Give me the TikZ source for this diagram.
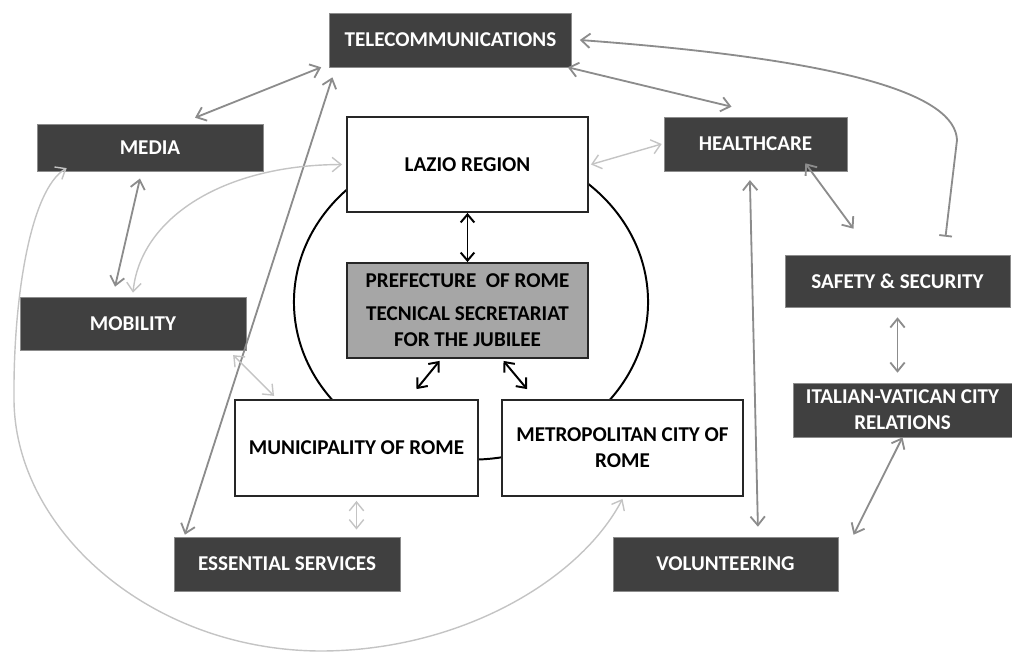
\documentclass[tikz,border=0pt]{standalone}
\usepackage{fontspec}
\setmainfont{Carlito}
\usetikzlibrary{arrows.meta}

\definecolor{boxgray}{HTML}{404040}
\definecolor{prefgray}{HTML}{A6A6A6}
\definecolor{linkgray}{HTML}{8C8C8C}
\definecolor{palegray}{HTML}{C4C4C4}

\begin{document}
\begin{tikzpicture}[x=0.025cm, y=-0.025cm,
    >={Straight Barb[length=2.2mm,width=3.6mm]},
    sector/.style={fill=boxgray, draw=black!45, text=white, align=center,
      font=\bfseries\fontsize{15}{18.5}\selectfont, inner sep=2pt},
    actor/.style={fill=white, draw=black!85, line width=1.3pt, align=center,
      font=\bfseries\fontsize{15}{18.5}\selectfont, inner sep=2pt},
    link/.style={<->, draw=linkgray, line width=1.3pt},
    soft/.style={<->, draw=palegray, line width=1pt},
    core/.style={<->, draw=black, line width=1.4pt,
      >={Straight Barb[length=2mm,width=3.4mm]}}]

      \useasboundingbox (0,0) rectangle (1012,652);

      % ring round the institutions
      \draw[line width=1.4pt] (471,302) ellipse [x radius=4.425cm, y radius=3.94cm];

      \node[actor, minimum width=6.025cm, minimum height=2.375cm] (lazio) at (467.5,164.5) {LAZIO REGION};
      \node[actor, fill=prefgray, minimum width=6.025cm, minimum height=2.375cm] (pref) at (467.5,310.5)
        {PREFECTURE\ \ OF ROME\\[5pt] TECNICAL SECRETARIAT\\FOR THE JUBILEE};
      \node[actor, minimum width=6.075cm, minimum height=2.4cm] (muni) at (356.5,448) {MUNICIPALITY OF ROME};
      \node[actor, minimum width=6.025cm, minimum height=2.4cm] (metro) at (622.5,448) {METROPOLITAN CITY OF\\ROME};

      \node[sector, minimum width=6.05cm, minimum height=1.35cm] (tele) at (450.5,40) {TELECOMMUNICATIONS};
      \node[sector, minimum width=5.65cm, minimum height=1.175cm] (media) at (150,147.5) {MEDIA};
      \node[sector, minimum width=4.575cm, minimum height=1.35cm] (health) at (755.5,144) {HEALTHCARE};
      \node[sector, minimum width=5.65cm, minimum height=1.325cm] (mobil) at (133,323.5) {MOBILITY};
      \node[sector, minimum width=5.625cm, minimum height=1.3cm] (safety) at (897.5,281) {SAFETY \& SECURITY};
      \node[sector, minimum width=5.475cm, minimum height=1.35cm] (vatican) at (902.5,410) {ITALIAN-VATICAN CITY\\RELATIONS};
      \node[sector, minimum width=5.65cm, minimum height=1.35cm] (essential) at (287,564) {ESSENTIAL SERVICES};
      \node[sector, minimum width=5.625cm, minimum height=1.35cm] (volunt) at (725.5,564) {VOLUNTEERING};

      % institutional links
      \draw[core] (lazio.south) -- (pref.north);
      \draw[core] ([xshift=-0.7cm,yshift=-0.05cm]pref.south) -- ([xshift=1.5cm,yshift=0.25cm]muni.north);
      \draw[core] ([xshift=0.9cm,yshift=-0.05cm]pref.south) -- ([xshift=0.65cm,yshift=0.25cm]metro.north west);

      % sector links
      \draw[link] ([xshift=1.125cm,yshift=0.15cm]media.north) -- ([xshift=-0.2cm]tele.south west);
      \draw[link] ([xshift=0.08cm,yshift=-0.25cm]tele.south west) -- ([xshift=0.28cm,yshift=0.05cm]essential.north west);
      \draw[link] ([xshift=-0.1cm]tele.south east) -- ([xshift=-0.6cm,yshift=0.25cm]health.north);
      \draw[draw=linkgray, line width=1.3pt, {Bar[width=3.2mm]}->] ([xshift=1.2cm,yshift=0.45cm]safety.north)
        -- (957,140) .. controls (955,95) and (850,60) .. ([xshift=0.2cm]tele.east);
      \draw[link] ([xshift=-1.05cm,yshift=0.2cm]health.south east) -- ([xshift=-1.1cm,yshift=0.65cm]safety.north);
      \draw[link] ([yshift=-0.25cm]safety.south) -- ([yshift=0.25cm]safety.south |- vatican.north);
      \draw[link] (vatican.south) -- ([xshift=0.38cm,yshift=0.05cm]volunt.north east);
      \draw[link] ([xshift=-0.14cm,yshift=-0.22cm]health.south) -- ([xshift=0.81cm,yshift=0.25cm]volunt.north);
      \draw[link] ([xshift=-0.25cm,yshift=-0.18cm]media.south) -- ([xshift=-0.45cm,yshift=0.25cm]mobil.north);

      % links to the institutions
      \draw[soft] ([xshift=0.05cm]lazio.east) -- ([xshift=-0.05cm]health.west);
      \draw[soft] ([yshift=0.1cm]mobil.north) .. controls (140,220) and (220,165) .. ([xshift=-0.1cm]lazio.west);
      \draw[soft] ([xshift=-0.33cm,yshift=-0.12cm]mobil.south east) -- ([xshift=1cm,yshift=0.08cm]muni.north west);
      \draw[soft] ([yshift=-0.1cm]muni.south) -- ([yshift=0.18cm]muni.south |- essential.north);
      \draw[soft] ([xshift=0.75cm,yshift=0.08cm]media.south west) .. controls (30,190) and (13,300) .. (14,400)
        .. controls (15,530) and (150,650) .. (320,651) .. controls (460,651) and (580,580) .. ([yshift=-0.05cm]metro.south);
\end{tikzpicture}
\end{document}
